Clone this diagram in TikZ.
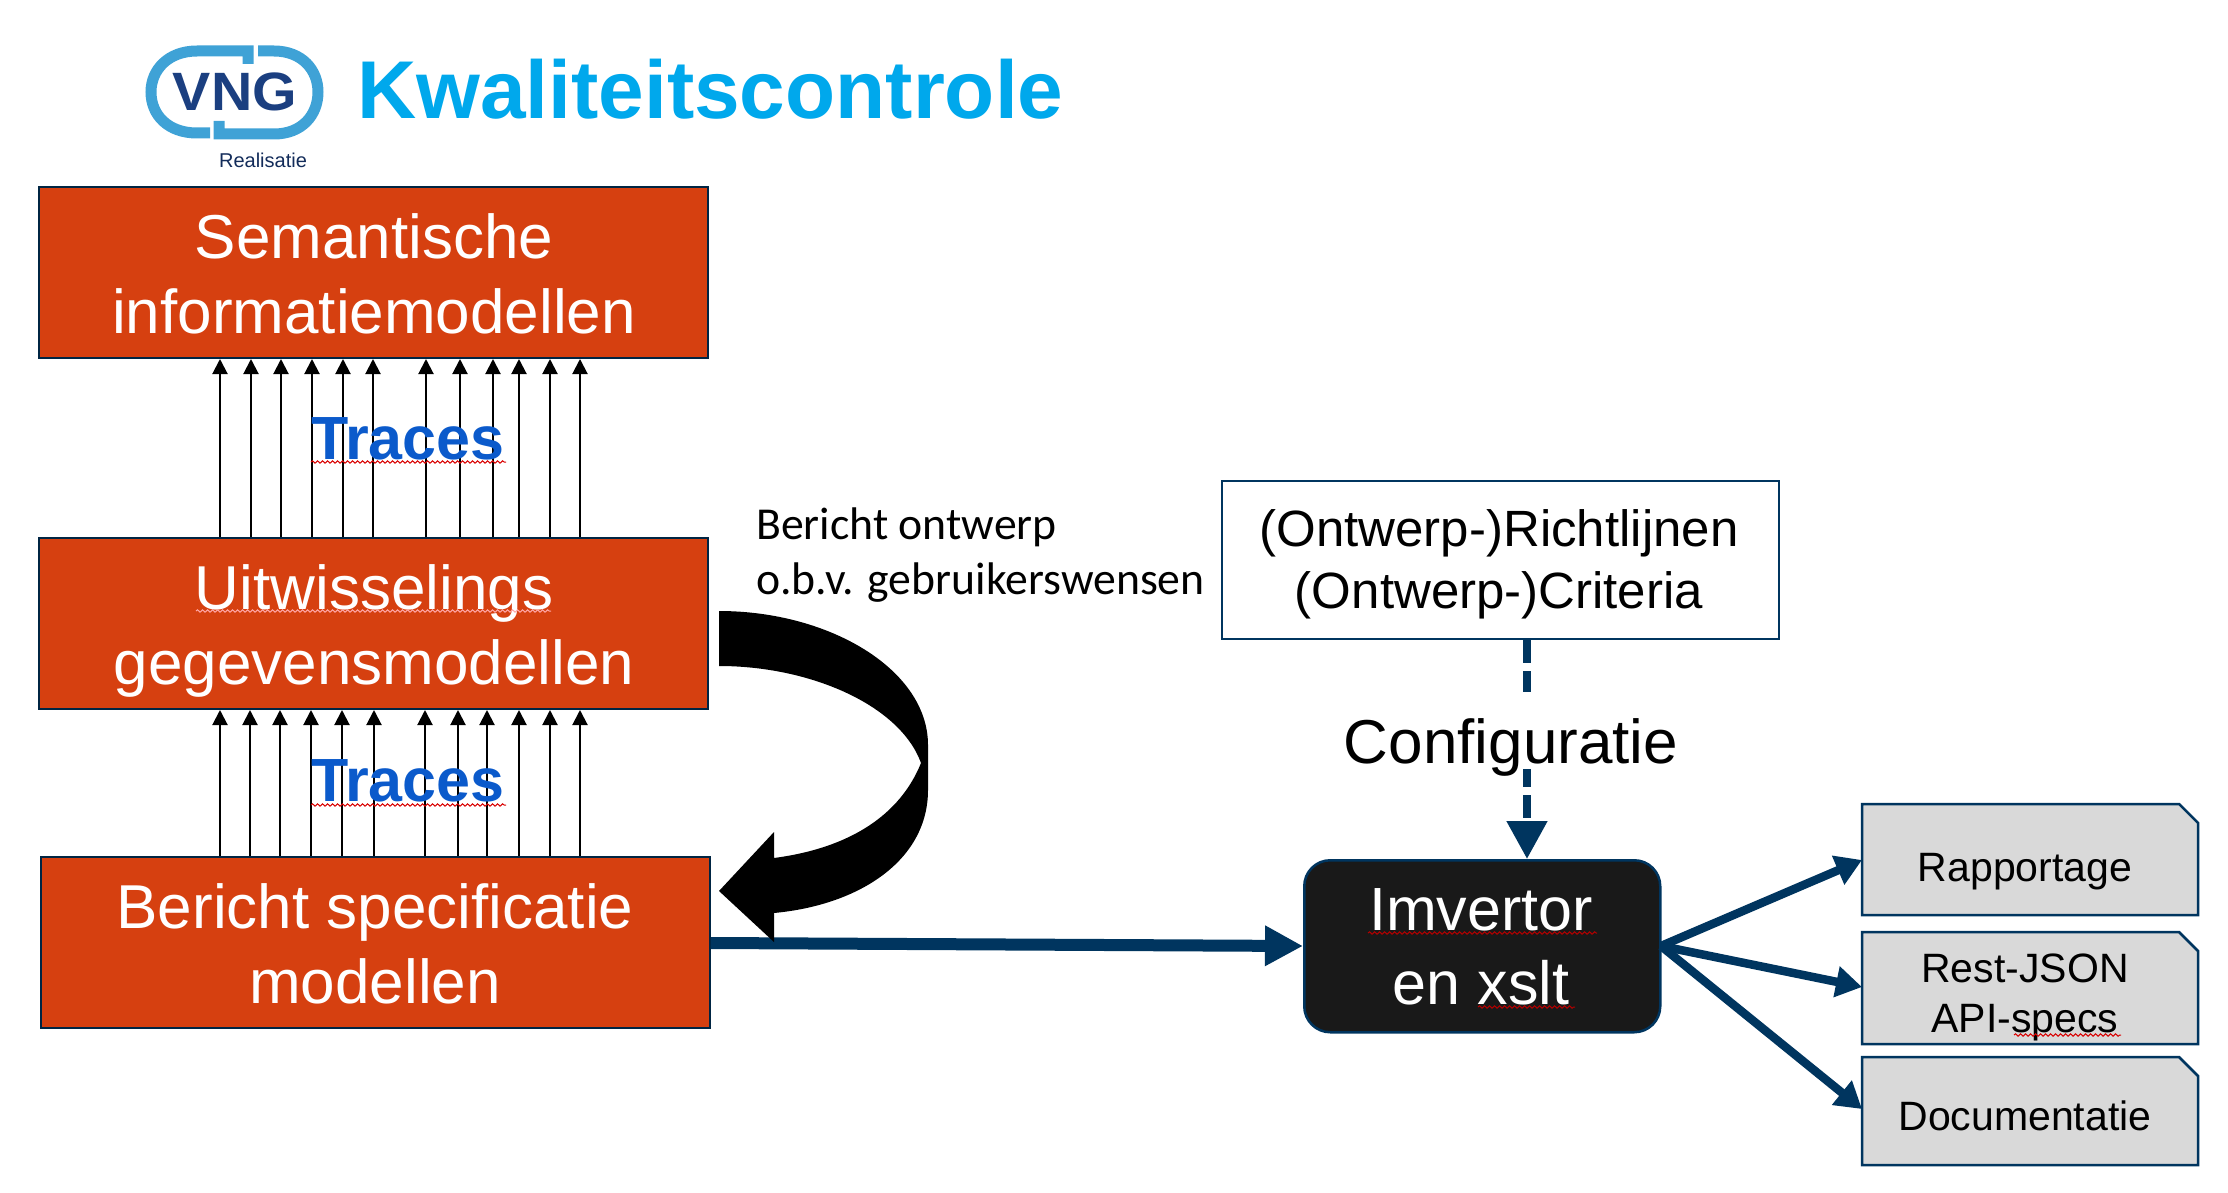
\documentclass[tikz,border=0pt]{standalone}
\usepackage{fontspec}
\setmainfont{Liberation Sans}
\newfontfamily\calfont{Carlito}
\usetikzlibrary{arrows.meta,decorations.pathmorphing}
\definecolor{vngrood}{HTML}{D64010}
\definecolor{vngblauw}{HTML}{00355F}
\definecolor{vnglicht}{HTML}{00A8EC}
\definecolor{logoblauw}{HTML}{3FA2D6}
\definecolor{logodonker}{HTML}{1B3F80}
\definecolor{tracekleur}{HTML}{0B5ACB}
\tikzstyle{model}=[draw=vngblauw!70!black,line width=2pt,fill=vngrood,minimum width=669pt,minimum height=171pt,inner sep=0pt,anchor=north west]
\tikzstyle{modeltxt}=[text=white,inner sep=0pt,align=center,font=\fontsize{62}{75}\selectfont]
\tikzstyle{doc}=[draw=vngblauw,line width=2.5pt,fill=black!15]
\tikzstyle{doctxt}=[align=center,inner sep=0pt,font=\fontsize{41}{50}\selectfont]
\tikzstyle{trace}=[-{Triangle[length=15pt,width=15pt]},line width=2pt]
\tikzstyle{uitvoer}=[-{Triangle[length=26pt,width=30pt]},line width=8.5pt,vngblauw]
\tikzstyle{tracetxt}=[text=tracekleur,font=\fontsize{61}{70}\selectfont\bfseries]
\tikzstyle{krul}=[red!85!black,line width=1pt,decorate,decoration={snake,amplitude=1.2pt,segment length=5pt}]
\begin{document}
\begin{tikzpicture}[x=1pt,y=-1pt]
\useasboundingbox (0,0) rectangle (2228,1193);
% logo
\draw[logoblauw,line width=11pt] (248,64) -- (248,51) -- (197,51) .. controls (168,51) and (151,70) .. (151,92) .. controls (151,115) and (168,133) .. (197,133) -- (210,133);
\draw[logoblauw,line width=11pt] (258,51) -- (274,51) .. controls (302,51) and (318,70) .. (318,92) .. controls (318,115) and (302,134) .. (274,134) -- (219,134) -- (219,121);
\node[text=logodonker,xscale=1.06,transform shape,font=\fontsize{54}{60}\selectfont\bfseries] (vng) at (235,92) {VNG};
\node[text=logodonker!70!black,font=\fontsize{20}{24}\selectfont] (realisatie) at (263,160) {Realisatie};
\node[text=vnglicht,anchor=base west,inner sep=0pt,font=\fontsize{82}{90}\selectfont\bfseries] (titel) at (357,119) {Kwaliteitscontrole};
% modellen
\node[model] (sem) at (38,186) {};
\node[model] (uit) at (38,537) {};
\node[model] (ber) at (40,856) {};
\node[modeltxt] (semtxt) at (374,274) {Semantische\\informatiemodellen};
\node[modeltxt] (uittxt) at (374,631) {Uitwisselings\\gegevensmodellen};
\node[modeltxt] (bertxt) at (375,944) {Bericht specificatie\\modellen};
\draw[krul,red!35!white] (196,611) -- (551,611);
% traces
\foreach \x in {220,251,281,312,343,373,426,460,493,519,550,580}
  \draw[trace] (uit.north -| \x,0) -- (sem.south -| \x,0);
\foreach \x in {220,250,280,311,342,374,425,458,487,519,550,580}
  \draw[trace] (ber.north -| \x,0) -- (uit.south -| \x,0);
\node[tracetxt] (tr1) at (408,439) {Traces};
\node[tracetxt] (tr2) at (408,781) {Traces};
\draw[krul] (311,462) -- (506,462);
\draw[krul] (311,805) -- (506,805);
% uitvoer blauw
\node[draw=vngblauw,line width=2.5pt,fill=black!90,rounded corners=26pt,minimum width=356pt,minimum height=172pt,inner sep=0pt,anchor=north west] (imv) at (1303,859) {};
\node[modeltxt,font=\fontsize{61}{74}\selectfont] (imvtxt) at (1481,947) {Imvertor\\en xslt};
\draw[krul,red!70!black] (1368,933) -- (1597,933);
\draw[krul,red!70!black] (1478,1007) -- (1575,1007);
\draw[uitvoer,line width=12pt,-{Triangle[length=38pt,width=38pt]}] (ber.east |- 0,943) -- (imv.west |- 0,946);
% kromme pijl
\fill (719,611) .. controls (830,611) and (928,670) .. (928,745) -- (928,790)
  .. controls (928,860) and (860,905) .. (774,913) -- (774,942) -- (719,891) -- (774,832) -- (774,858)
  .. controls (850,848) and (900,815) .. (921,763) .. controls (900,705) and (810,666) .. (719,666) -- cycle;
\node[anchor=base west,inner sep=0pt,font=\fontsize{45.7}{55}\selectfont\calfont,align=left] (ontwerp) at (756,594.5) {Bericht ontwerp\\o.b.v. gebruikerswensen};
% rechts
\node[draw=vngblauw,line width=2pt,minimum width=557pt,minimum height=158pt,inner sep=0pt,anchor=north west] (richt) at (1221,480) {};
\node[inner sep=0pt,align=center,font=\fontsize{51}{62}\selectfont] (richttxt) at (1499,564) {(Ontwerp-)Richtlijnen\\(Ontwerp-)Criteria};
\draw[vngblauw,line width=8pt,dash pattern=on 23pt off 8pt,-{Triangle[length=38pt,width=39pt]}] (richt.south -| 1527,0) -- (imv.north -| 1527,0);
\node[fill=white,anchor=base,inner sep=0pt,text height=71pt,text depth=6pt,font=\fontsize{62}{70}\selectfont] (conf) at (1511,763) {Configuratie};
% documenten
\foreach \n/\y/\h in {rap/804/111,rest/932/112,docu/1057/108}{
  \draw[doc] (1862,\y) -- (2179,\y) -- (2198,\y+19) -- (2198,\y+\h) -- (1862,\y+\h) -- cycle;
}
\node[doctxt] (raptxt) at (2025,872) {Rapportage};
\node[doctxt] (resttxt) at (2025,997) {Rest-JSON\\API-specs};
\node[doctxt] (docutxt) at (2025,1116) {Documentatie};
\draw[krul] (2014,1035) -- (2121,1035);
\coordinate (imvuit) at (1661,946);
\draw[uitvoer] (imvuit) -- (1862,860);
\draw[uitvoer] (imvuit) -- (1862,987);
\draw[uitvoer] (imvuit) -- (1862,1109);
\end{tikzpicture}
\end{document}
